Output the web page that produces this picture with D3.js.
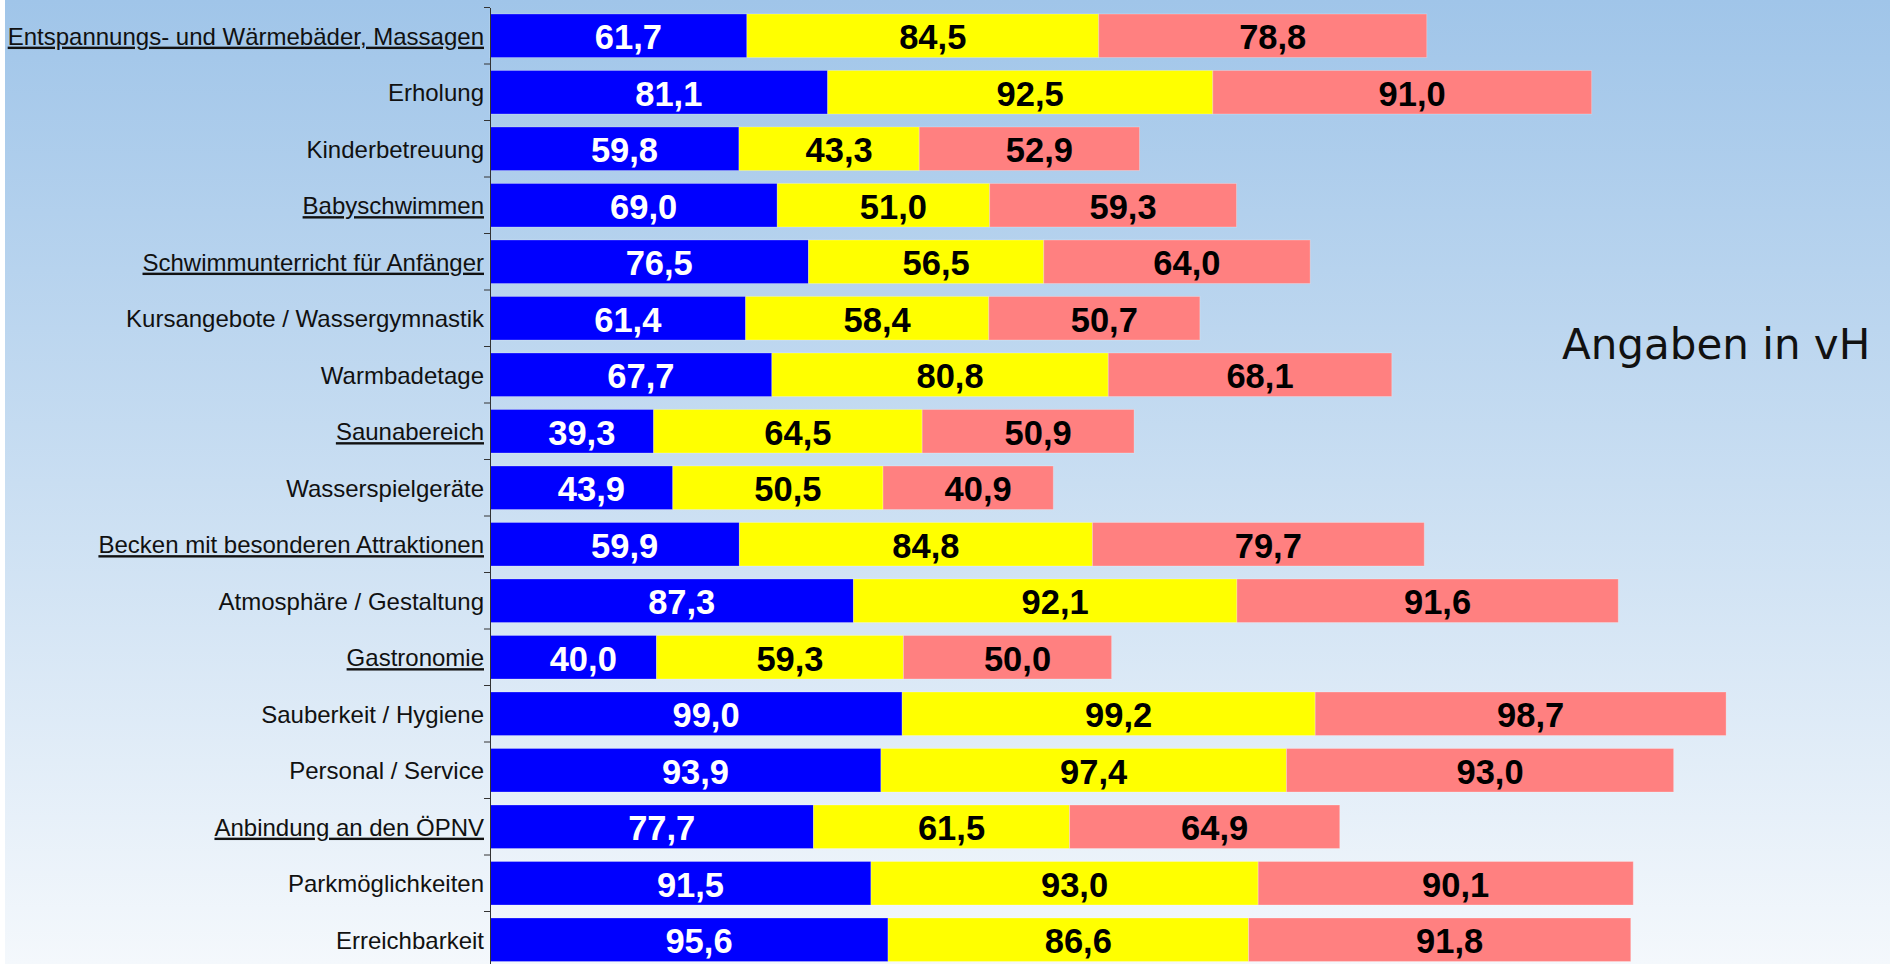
<!DOCTYPE html>
<meta charset="utf-8">

<!-- Load d3.js -->
<script src="https://d3js.org/d3.v7.min.js"></script>

<style>
body {
	margin: 0;
	background: #fff;
	overflow: hidden;
}
.cat-axis text {
	font-family: "Liberation Sans", Arial, sans-serif;
	font-size: 24px;
	fill: #111;
}
.cat-axis path, .cat-axis line {
	stroke: #333;
}
.value {
	font-family: "Liberation Sans", Arial, sans-serif;
	font-weight: bold;
	font-size: 34.5px;
	text-anchor: middle;
}
.note {
	font-family: "DejaVu Sans", sans-serif;
	font-size: 42px;
	fill: #111;
}
</style>

<body>
<div id="my_dataviz"></div>
</body>

<script>

// categories, top to bottom
const categories = [
	"Entspannungs- und Wärmebäder, Massagen",
	"Erholung",
	"Kinderbetreuung",
	"Babyschwimmen",
	"Schwimmunterricht für Anfänger",
	"Kursangebote / Wassergymnastik",
	"Warmbadetage",
	"Saunabereich",
	"Wasserspielgeräte",
	"Becken mit besonderen Attraktionen",
	"Atmosphäre / Gestaltung",
	"Gastronomie",
	"Sauberkeit / Hygiene",
	"Personal / Service",
	"Anbindung an den ÖPNV",
	"Parkmöglichkeiten",
	"Erreichbarkeit"
];

// labels that are underlined in the original
const underlined = [
	"Entspannungs- und Wärmebäder, Massagen",
	"Babyschwimmen",
	"Schwimmunterricht für Anfänger",
	"Saunabereich",
	"Becken mit besonderen Attraktionen",
	"Gastronomie",
	"Anbindung an den ÖPNV"
];

// three series (blue, yellow, pink), in vH
const series1 = [61.7, 81.1, 59.8, 69.0, 76.5, 61.4, 67.7, 39.3, 43.9, 59.9, 87.3, 40.0, 99.0, 93.9, 77.7, 91.5, 95.6];
const series2 = [84.5, 92.5, 43.3, 51.0, 56.5, 58.4, 80.8, 64.5, 50.5, 84.8, 92.1, 59.3, 99.2, 97.4, 61.5, 93.0, 86.6];
const series3 = [78.8, 91.0, 52.9, 59.3, 64.0, 50.7, 68.1, 50.9, 40.9, 79.7, 91.6, 50.0, 98.7, 93.0, 64.9, 90.1, 91.8];

const keys = ["s1", "s2", "s3"];
const colors = {s1: "#0000ff", s2: "#ffff00", s3: "#ff8080"};
const textColors = {s1: "#ffffff", s2: "#000000", s3: "#000000"};

const width = 1890,
	height = 964;

const rows = categories.map((c, i) => ({cat: c, s1: series1[i], s2: series2[i], s3: series3[i]}));

const svg = d3.select("#my_dataviz")
.append("svg")
	.attr("width", width)
	.attr("height", height);

// background gradient
const grad = svg.append("defs").append("linearGradient")
	.attr("id", "bg")
	.attr("x1", 0).attr("y1", 0)
	.attr("x2", 0).attr("y2", 1);
grad.append("stop").attr("offset", "0%").attr("stop-color", "#a0c5e9");
grad.append("stop").attr("offset", "50%").attr("stop-color", "#c9def2");
grad.append("stop").attr("offset", "100%").attr("stop-color", "#f4f8fc");

svg.append("rect")
	.attr("x", 5)
	.attr("y", 0)
	.attr("width", width - 5)
	.attr("height", height)
	.attr("fill", "url(#bg)");

const x = d3.scaleLinear()
	.domain([0, 300])
	.range([490, 1739]);

const y = d3.scaleBand()
	.domain(categories)
	.range([7.5, 7.5 + 56.5 * categories.length])
	.paddingInner(0.23)
	.paddingOuter(0.115);

const stacked = d3.stack().keys(keys)(rows);

// bars
const layer = svg.append("g")
	.selectAll("g")
	.data(stacked)
	.join("g")
		.attr("fill", d => colors[d.key]);

layer.selectAll("rect")
	.data(d => d)
	.join("rect")
		.attr("x", d => x(d[0]))
		.attr("y", d => y(d.data.cat))
		.attr("width", d => x(d[1]) - x(d[0]))
		.attr("height", y.bandwidth())
		.attr("stroke", "rgba(255,255,255,0.25)")
		.attr("stroke-width", 1);

// value labels (sit a little right of the segment centre, as in the original)
layer.each(function(s) {
	d3.select(this).selectAll("text")
		.data(s)
		.join("text")
			.attr("class", "value")
			.attr("x", d => (x(d[0]) + x(d[1])) / 2)
			.attr("y", d => y(d.data.cat) + y.bandwidth() / 2)
			.attr("dx", 10)
			.attr("dy", "0.39em")
			.attr("fill", textColors[s.key])
			.text(d => d3.format(".1f")(d[1] - d[0]).replace(".", ","));
});

// category axis
const axis = svg.append("g")
	.attr("class", "cat-axis")
	.attr("transform", `translate(${x(0)},0)`)
	.call(d3.axisLeft(y).tickSize(0).tickSizeOuter(0).tickPadding(6));

axis.selectAll(".tick text")
	.attr("dy", "0.37em")
	.style("text-decoration", d => underlined.indexOf(d) != -1 ? "underline" : null)
	.style("text-decoration-thickness", "2px")
	.style("text-underline-offset", "3px");

// tick marks sit between the categories
const bounds = d3.range(categories.length + 1).map(i => y.range()[0] + i * y.step());
axis.selectAll(".sep")
	.data(bounds)
	.join("line")
		.attr("class", "sep")
		.attr("x1", -6)
		.attr("x2", 0)
		.attr("y1", d => d)
		.attr("y2", d => d);

svg.append("text")
	.attr("class", "note")
	.attr("x", 1562)
	.attr("y", 359)
	.text("Angaben in vH");

</script>
